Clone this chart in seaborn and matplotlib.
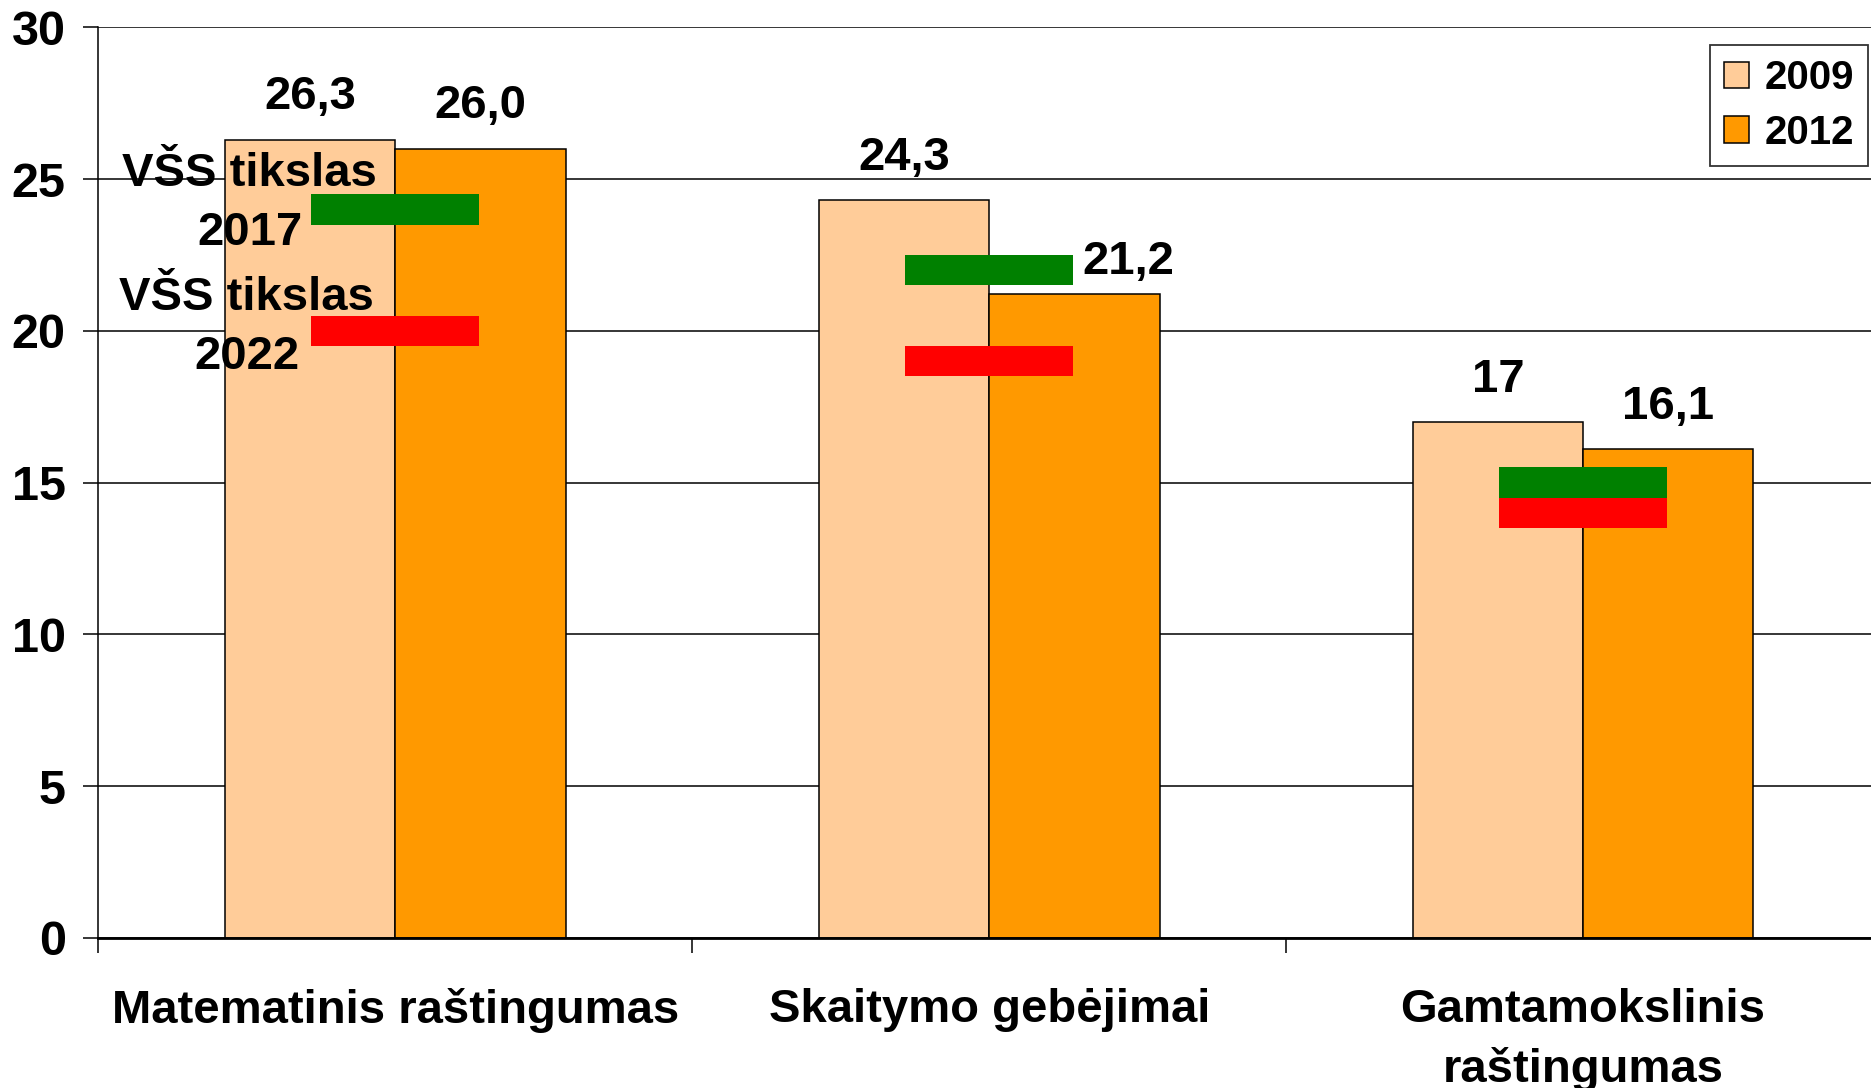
import matplotlib
matplotlib.use("Agg")
import matplotlib.pyplot as plt
import seaborn as sns
import pandas as pd
from matplotlib.ticker import FixedLocator

# ---- data ----
categories = ["Matematinis raštingumas", "Skaitymo gebėjimai", "Gamtamokslinis\nraštingumas"]
years = ["2009", "2012"]
values_2009 = [26.3, 24.3, 17.0]
values_2012 = [26.0, 21.2, 16.1]
labels_2009 = ["26,3", "24,3", "17"]
labels_2012 = ["26,0", "21,2", "16,1"]
target_2017 = [24, 22, 15]
target_2022 = [20, 19, 14]
target_text = ["VŠS tikslas\n2017", "VŠS tikslas\n2022"]
y_ticks = [0, 5, 10, 15, 20, 25, 30]

df = pd.DataFrame({
    "category": categories * 2,
    "year": [years[0]] * 3 + [years[1]] * 3,
    "value": values_2009 + values_2012,
})

sns.set_theme(style="white")
plt.rcParams["font.family"] = ["Liberation Sans", "DejaVu Sans"]
plt.rcParams["font.weight"] = "bold"
for k in ["text.color", "axes.labelcolor", "xtick.color", "ytick.color"]:
    plt.rcParams[k] = "black"

FS = 34
TFS = 35
LFS = 29
fig = plt.figure(figsize=(18.71, 10.88), dpi=100)
ax = fig.add_axes([0.0526, 0.1379, 0.9522, 0.8370])

colors = {"2009": "#FFCC99", "2012": "#FF9900"}
sns.barplot(data=df, x="category", y="value", hue="year", order=categories,
            hue_order=years, palette=colors, saturation=1, width=0.574, gap=0,
            edgecolor="black", linewidth=1.1, legend=False, ax=ax, zorder=2)

bar_handles = list(ax.containers[:2])

# target bars
xs = list(range(len(categories)))
ax.bar(xs, [1.0] * 3, bottom=[t - 0.5 for t in target_2017], width=0.283,
       color="#008000", zorder=4, linewidth=0)
ax.bar(xs, [1.0] * 3, bottom=[t - 0.5 for t in target_2022], width=0.283,
       color="#FF0000", zorder=4, linewidth=0)

# value labels
bw = 0.287
dx_2012 = [0, 0.09, 0]
dy_2012 = [1.0, 0.68, 1.0]
for i in xs:
    ax.text(i - bw / 2, values_2009[i] + 1.0, labels_2009[i], ha="center",
            va="baseline", fontsize=FS, fontweight="bold", zorder=6)
    ax.text(i + bw / 2 + dx_2012[i], values_2012[i] + dy_2012[i], labels_2012[i],
            ha="center", va="baseline", fontsize=FS, fontweight="bold", zorder=6)

# target texts
ax.text(-0.245, target_2017[0] + 0.2, target_text[0], ha="center", va="center",
        multialignment="center", fontsize=FS, fontweight="bold",
        linespacing=1.45, zorder=5)
ax.text(-0.25, target_2022[0] + 0.1, target_text[1], ha="center", va="center",
        multialignment="center", fontsize=FS, fontweight="bold",
        linespacing=1.45, zorder=5)

# axes styling
ax.set_xlim(-0.5, 2.5)
ax.set_ylim(0, 30)
ax.set_yticks(y_ticks)
ax.set_yticklabels([str(t) for t in y_ticks], fontsize=TFS, fontweight="bold")
ax.yaxis.grid(True, color="black", linewidth=1.1, zorder=0)
ax.set_axisbelow(True)
ax.set_xlabel("")
ax.set_ylabel("")
ax.set_xticks(xs)
ax.set_xticklabels(categories, fontsize=FS, fontweight="bold", linespacing=1.42)
ax.xaxis.set_minor_locator(FixedLocator([-0.5, 0.5, 1.5, 2.5]))
ax.tick_params(axis="x", which="major", length=0, pad=36)
ax.tick_params(axis="x", which="minor", length=10.5, width=1.1, color="black",
               direction="out", bottom=True)
ax.tick_params(axis="y", which="major", length=10.5, width=1.1, color="black",
               direction="out", left=True, pad=13)
for s in ["top", "right"]:
    ax.spines[s].set_visible(False)
ax.spines["left"].set_color("black")
ax.spines["left"].set_linewidth(1.1)
ax.spines["bottom"].set_color("black")
ax.spines["bottom"].set_linewidth(2)
ax.spines["bottom"].set_zorder(5)

leg = fig.legend(bar_handles, years, loc="upper right",
                 bbox_to_anchor=(1868 / 1871, 1 - 45 / 1088), frameon=True,
                 fancybox=False, shadow=False, prop={"weight": "bold", "size": LFS},
                 handlelength=0.62, handleheight=0.65, handletextpad=0.38,
                 labelspacing=0.42, borderpad=0.35, borderaxespad=0)
leg.get_frame().set_edgecolor("black")
leg.get_frame().set_linewidth(1.3)

fig.savefig("out.png", dpi=100)
